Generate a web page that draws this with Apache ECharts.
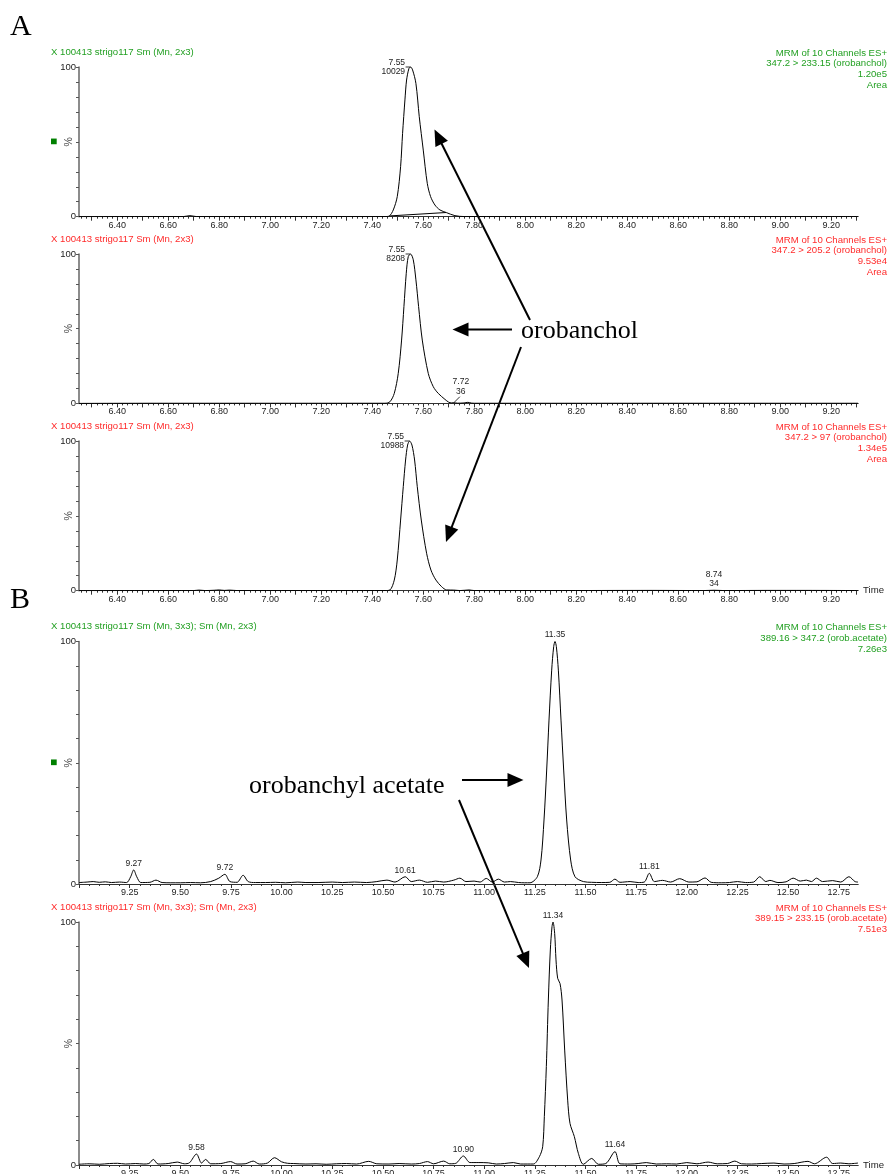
<!DOCTYPE html>
<html><head><meta charset="utf-8">
<script src="https://cdn.jsdelivr.net/npm/echarts@6/dist/echarts.min.js"></script>
<style>html,body{margin:0;padding:0;background:#fff}#c{width:890px;height:1174px}</style>
</head><body><div id="c"></div>
<script>
// ---------------- DATA (time in min, intensity in % of panel max) ----------------
const ticksA = [6.40, 6.60, 6.80, 7.00, 7.20, 7.40, 7.60, 7.80, 8.00, 8.20, 8.40, 8.60, 8.80, 9.00, 9.20];
const ticksB = [9.25, 9.50, 9.75, 10.00, 10.25, 10.50, 10.75, 11.00, 11.25, 11.50, 11.75, 12.00, 12.25, 12.50, 12.75];

const p1Trace = [
[6.25,0],[6.50,0.1],[6.66,0.1],[6.685,0.7],[6.71,0.1],[7.00,0.1],[7.30,0.1],[7.45,0.1],
[7.467,0.5],[7.4825,4.5],[7.4981,13.4],[7.5112,33.4],[7.519,55.7],[7.5282,78],[7.5347,91.3],[7.5439,99],[7.5504,100],
[7.5583,98],[7.5713,89],[7.5844,66.8],[7.6001,44.5],[7.6158,22.3],[7.6289,13.4],[7.6459,7.8],[7.6655,4.5],[7.6916,2.7],[7.7243,0.7],[7.76,0.1],[8.00,0.1],[8.40,0.1],[8.80,0.1],[9.20,0.1],[9.305,0.1]];
const p1AreaBase = [[7.467,0.5],[7.69,2.8]];
const p1Labels = [{t:7.5504, v:100, text:'7.55\n10029', kind:'left'}];

const p2Trace = [
[6.25,0],[6.60,0.1],[7.00,0.1],[7.30,0.1],[7.45,0.1],
[7.4694,1.1],[7.4864,6.7],[7.502,20.1],[7.5151,42.4],[7.5243,64.8],[7.5334,87.1],[7.5413,98.3],[7.5504,100],
[7.5609,96.1],[7.5713,82.7],[7.5818,64.8],[7.5962,42.4],[7.6197,20.1],[7.6393,11.2],[7.6589,6.7],[7.6851,2.7],
[7.70,0.8],[7.71,0.35],[7.72,0.45],[7.735,0.15],[7.76,0.3],[7.775,0.7],[7.79,0.2],[7.80,0.1],[8.20,0.1],[8.60,0.1],[9.00,0.1],[9.305,0.1]];
const p2Labels = [{t:7.5504, v:100, text:'7.55\n8208', kind:'left'}, {t:7.72, v:0.45, text:'7.72\n36', kind:'upright'}];

const p3Trace = [
[6.25,0],[6.50,0.1],[6.70,0.1],[6.72,0.4],[6.745,0.1],[6.78,0.3],[6.80,0.5],[6.82,0.2],[6.84,0.4],[6.87,0.1],[7.10,0.1],[7.45,0.1],
[7.4694,0.5],[7.4864,7.1],[7.4981,20.5],[7.5112,47.2],[7.5217,69.5],[7.5308,87.3],[7.5387,97.3],[7.5465,100],
[7.5557,97.3],[7.5661,87.3],[7.5766,69.5],[7.5923,47.2],[7.6132,25],[7.6302,13.8],[7.6498,7.1],[7.672,2.7],[7.6916,0.5],
[7.72,0.4],[7.745,0.1],[7.78,0.5],[7.80,0.1],[8.10,0.1],[8.50,0.2],[8.70,0.1],[8.74,0.3],[8.78,0.1],[8.95,0.2],[9.10,0.2],[9.305,0.1]];
const p3Labels = [{t:7.5465, v:100, text:'7.55\n10988', kind:'left'}, {t:8.74, v:0.3, text:'8.74\n34', kind:'top'}];

const p4Trace = [
[9.00,0.6],[9.04,0.8],[9.07,1.0],[9.10,0.7],[9.13,0.9],[9.16,0.6],[9.20,0.8],[9.235,0.6],[9.255,3.0],[9.27,5.8],[9.285,3.0],[9.305,0.6],
[9.35,0.7],[9.38,1.6],[9.41,0.6],[9.45,0.5],[9.50,0.5],[9.55,0.6],[9.60,0.5],[9.65,1.0],[9.69,2.4],[9.72,4.0],[9.745,1.0],[9.78,0.7],
[9.81,3.6],[9.835,1.0],[9.87,0.6],[9.92,0.6],[9.97,0.7],[10.02,0.5],[10.08,0.8],[10.12,0.6],[10.18,0.6],[10.25,0.8],[10.30,0.6],
[10.36,0.8],[10.42,0.6],[10.47,1.0],[10.52,1.6],[10.56,0.8],[10.61,3.0],[10.64,1.0],[10.68,1.6],[10.72,0.7],[10.76,1.2],[10.80,0.8],
[10.85,1.6],[10.88,2.4],[10.91,1.0],[10.95,1.2],[10.98,0.8],[11.01,2.3],[11.04,0.8],[11.07,2.0],[11.10,0.8],[11.13,1.0],[11.17,0.6],[11.20,0.5],
[11.226,0.5],[11.2623,3.0],[11.2804,9.9],[11.2952,26.4],[11.3084,47],[11.3199,67.6],[11.3331,88.2],[11.343,97.9],[11.3495,100],
[11.3561,97.9],[11.366,88.2],[11.3791,67.6],[11.3923,47],[11.4071,26.4],[11.4268,9.9],[11.4482,3.0],[11.4893,1.0],
[11.53,0.7],[11.58,0.6],[11.62,0.7],[11.645,2.0],[11.67,0.7],[11.72,1.0],[11.76,0.6],[11.79,0.8],[11.815,4.4],[11.84,1.0],[11.88,1.5],
[11.92,0.8],[11.965,2.2],[12.01,0.8],[12.05,0.9],[12.09,2.5],[12.12,0.7],[12.17,0.5],[12.21,0.6],[12.25,1.0],[12.29,0.6],[12.33,0.8],
[12.36,3.0],[12.39,1.0],[12.41,1.5],[12.45,0.6],[12.49,0.9],[12.525,2.4],[12.56,1.2],[12.59,1.6],[12.615,1.0],[12.64,2.4],[12.67,1.0],
[12.72,1.4],[12.76,0.8],[12.80,3.0],[12.83,1.0],[12.845,0.8]];
const p4Labels = [{t:11.3495, v:100, text:'11.35', kind:'top'}, {t:9.27, v:5.8, text:'9.27', kind:'top'},
  {t:9.72, v:4.0, text:'9.72', kind:'top'}, {t:10.61, v:3.0, text:'10.61', kind:'top'}, {t:11.815, v:4.4, text:'11.81', kind:'top'}];

const p5Trace = [
[9.00,0.3],[9.05,0.5],[9.10,0.3],[9.15,0.6],[9.19,0.7],[9.23,0.4],[9.28,0.6],[9.32,0.4],[9.345,0.6],[9.367,2.3],[9.39,0.4],[9.44,0.6],
[9.485,1.2],[9.52,0.5],[9.545,0.9],[9.58,4.5],[9.605,0.8],[9.625,2.3],[9.65,0.5],[9.70,0.6],[9.748,1.4],[9.78,0.4],[9.82,0.5],[9.86,1.6],
[9.89,0.4],[9.93,0.8],[9.965,3.0],[10.00,1.3],[10.03,0.7],[10.06,0.6],[10.12,0.4],[10.17,0.5],[10.22,0.3],[10.27,0.5],[10.32,0.6],
[10.37,0.4],[10.43,1.5],[10.47,0.5],[10.53,0.4],[10.58,0.6],[10.64,0.4],[10.68,0.6],[10.72,1.4],[10.75,0.5],[10.80,1.6],[10.83,0.5],
[10.86,0.7],[10.897,3.7],[10.93,1.0],[10.97,1.0],[11.02,0.9],[11.06,0.4],[11.10,0.6],[11.144,1.0],[11.18,0.4],
[11.2425,0.4],[11.2722,3.4],[11.2886,7.5],[11.2968,19.9],[11.3067,40.5],[11.3166,67.9],[11.3264,88.5],[11.3347,98.1],[11.3396,100],
[11.3478,95.3],[11.3544,84.4],[11.3627,76.8],[11.3742,74.7],[11.3841,67.9],[11.3972,47.3],[11.412,26.7],[11.4235,17.1],[11.4449,11.7],
[11.4646,4.8],[11.4893,0.3],[11.5305,2.7],[11.5634,0.3],[11.60,0.6],[11.6456,5.5],[11.67,0.5],[11.72,0.4],[11.76,0.6],[11.80,1.0],
[11.85,0.4],[11.90,0.5],[11.95,0.4],[12.00,1.0],[12.05,0.5],[12.105,1.2],[12.15,0.5],[12.20,0.6],[12.237,1.6],[12.27,0.5],[12.32,0.4],
[12.37,0.6],[12.43,0.8],[12.48,0.4],[12.53,0.6],[12.598,1.5],[12.63,0.5],[12.69,3.2],[12.72,0.6],[12.76,0.8],[12.80,0.5],[12.845,0.8]];
const p5Labels = [{t:11.3396, v:100, text:'11.34', kind:'top'}, {t:9.58, v:4.5, text:'9.58', kind:'top'},
  {t:10.897, v:3.7, text:'10.90', kind:'top'}, {t:11.6456, v:5.5, text:'11.64', kind:'top'}];

const headerA = 'X 100413 strigo117 Sm (Mn, 2x3)';
const headerB = 'X 100413 strigo117 Sm (Mn, 3x3); Sm (Mn, 2x3)';
const p1Right = ['MRM of 10 Channels ES+', '347.2 > 233.15 (orobanchol)', '1.20e5', 'Area'];
const p2Right = ['MRM of 10 Channels ES+', '347.2 > 205.2 (orobanchol)', '9.53e4', 'Area'];
const p3Right = ['MRM of 10 Channels ES+', '347.2 > 97 (orobanchol)', '1.34e5', 'Area'];
const p4Right = ['MRM of 10 Channels ES+', '389.16 > 347.2 (orob.acetate)', '7.26e3'];
const p5Right = ['MRM of 10 Channels ES+', '389.15 > 233.15 (orob.acetate)', '7.51e3'];

// ---------------- STYLE / LAYOUT ----------------
const FONT = '"Liberation Sans", Arial, sans-serif';
const SERIF = '"Liberation Serif", "Times New Roman", serif';
const GREEN = '#23a023', RED = '#ff2b2b', SQ = '#008000', TXT = '#222';
const LEFT = 79, RIGHT = 32;
const rangeA = {min: 6.25, max: 9.305, minor: 0.02, mid: 0.1, labels: ticksA};
const rangeB = {min: 9.0, max: 12.845, minor: 0.05, mid: 0.25, labels: ticksB};

const panels = [
  {top: 67,    height: 149.7, range: rangeA, trace: p1Trace, labels: p1Labels, color: GREEN, header: headerA, right: p1Right, time: false, square: true},
  {top: 254,   height: 149.4, range: rangeA, trace: p2Trace, labels: p2Labels, color: RED,   header: headerA, right: p2Right, time: false},
  {top: 441,   height: 149.7, range: rangeA, trace: p3Trace, labels: p3Labels, color: RED,   header: headerA, right: p3Right, time: true},
  {top: 641.5, height: 242.5, range: rangeB, trace: p4Trace, labels: p4Labels, color: GREEN, header: headerB, right: p4Right, time: false, square: true},
  {top: 922,   height: 243,   range: rangeB, trace: p5Trace, labels: p5Labels, color: RED,   header: headerB, right: p5Right, time: true}
];

function steps(min, max, step) {
  const out = [];
  for (let k = Math.ceil(min / step - 1e-9); k * step <= max + 1e-9; k++) out.push(Math.round(k * step * 1000) / 1000);
  return out;
}

const grids = [], xAxes = [], yAxes = [], series = [], graphics = [];

function markPoints(items) {
  return {
    silent: true, animation: false,
    data: items.map(it => {
      const lab = {show: true, formatter: it.text, fontSize: 8.5, lineHeight: 9.5, color: TXT, fontFamily: FONT};
      if (it.kind === 'left') {
        return {coord: [it.t, it.v], symbol: 'rect', symbolSize: [5, 0.8], symbolOffset: [-2.5, 0],
          itemStyle: {color: '#000'}, label: Object.assign(lab, {position: 'left', distance: 0.5, align: 'right'})};
      }
      if (it.kind === 'upright') {
        return {coord: [it.t, it.v], symbol: 'path://M0,10 L8,0', symbolSize: [6, 6], symbolOffset: [3, -3],
          itemStyle: {color: 'rgba(0,0,0,0)', borderColor: '#000', borderWidth: 0.8},
          label: Object.assign(lab, {position: 'top', distance: 0, align: 'center', offset: [4, 0]})};
      }
      return {coord: [it.t, it.v], symbol: 'circle', symbolSize: 0.5, itemStyle: {color: 'rgba(0,0,0,0)'},
        label: Object.assign(lab, {position: 'top', distance: 1.5, align: 'center'})};
    })
  };
}

panels.forEach((p, i) => {
  grids.push({left: LEFT, right: RIGHT, top: p.top, height: p.height, containLabel: false, outerBoundsMode: 'none'});
  const r = p.range;
  xAxes.push({
    type: 'value', gridIndex: i, position: 'bottom', min: r.min, max: r.max,
    axisLine: {show: true, onZero: false, lineStyle: {color: '#333', width: 1}},
    axisTick: {show: true, customValues: steps(r.min, r.max, r.minor), length: 2, lineStyle: {color: '#333', width: 1}},
    axisLabel: {show: true, customValues: r.labels, formatter: v => v.toFixed(2), fontSize: 9, color: TXT, margin: 4, fontFamily: FONT},
    splitLine: {show: false},
    name: p.time ? 'Time' : '', nameLocation: 'end', nameGap: 5, nameMoveOverlap: false,
    nameTextStyle: {fontSize: 9.6, color: TXT, fontFamily: FONT, verticalAlign: 'middle', align: 'left'}
  });
  xAxes.push({
    type: 'value', gridIndex: i, position: 'bottom', min: r.min, max: r.max,
    axisLine: {show: true, onZero: false, lineStyle: {color: '#333', width: 1}},
    axisTick: {show: true, customValues: steps(r.min, r.max, r.mid), length: 4, lineStyle: {color: '#333', width: 1}},
    axisLabel: {show: false}, splitLine: {show: false}
  });
  yAxes.push({
    type: 'value', gridIndex: i, min: 0, max: 100, interval: 10,
    axisLine: {show: true, onZero: false, lineStyle: {color: '#666', width: 1.5}},
    axisTick: {show: true, length: 3, lineStyle: {color: '#555', width: 1}},
    axisLabel: {show: true, customValues: [0, 100], fontSize: 9.5, color: TXT, margin: 3, fontFamily: FONT},
    splitLine: {show: false},
    name: '%', nameLocation: 'middle', nameGap: 4, nameRotate: 90, nameMoveOverlap: false,
    nameTextStyle: {fontSize: 10.5, color: '#444', fontFamily: FONT}
  });
  series.push({
    type: 'line', xAxisIndex: 2 * i, yAxisIndex: i, data: p.trace, showSymbol: false, symbol: 'none',
    smooth: 0.3, lineStyle: {color: '#000', width: 1}, silent: true, animation: false,
    markPoint: markPoints(p.labels)
  });
  graphics.push({type: 'text', x: 51, y: p.top - 14.7, silent: true,
    style: {text: p.header, fill: p.color, font: '9.6px ' + FONT, align: 'left', verticalAlign: 'middle'}});
  graphics.push({type: 'text', x: 887, y: p.top - 14.7 - 5.45 + 0.6, silent: true,
    style: {text: p.right.join('\n'), fill: p.color, font: '9.6px ' + FONT, align: 'right', verticalAlign: 'top', lineHeight: 10.9}});
  if (p.square) {
    graphics.push({type: 'rect', silent: true, shape: {x: 51, y: p.top + p.height / 2 - 2.8 - 0.5, width: 5.7, height: 5.7}, style: {fill: SQ}});
  }
});

// integration baseline under the first peak
series.push({type: 'line', xAxisIndex: 0, yAxisIndex: 0, data: p1AreaBase, showSymbol: false, symbol: 'none',
  lineStyle: {color: '#000', width: 1}, silent: true, animation: false});

// ---------------- annotations ----------------
function arrow(x1, y1, x2, y2) {
  const dx = x2 - x1, dy = y2 - y1, L = Math.hypot(dx, dy), ux = dx / L, uy = dy / L, hl = 16, hw = 7;
  const bx = x2 - ux * hl, by = y2 - uy * hl;
  return [
    {type: 'line', silent: true, shape: {x1: x1, y1: y1, x2: bx + ux * 2, y2: by + uy * 2}, style: {stroke: '#000', lineWidth: 2}},
    {type: 'polygon', silent: true, shape: {points: [[x2, y2], [bx - uy * hw, by + ux * hw], [bx + uy * hw, by - ux * hw]]}, style: {fill: '#000'}}
  ];
}
graphics.push(...arrow(530, 320, 434.5, 129.5));
graphics.push(...arrow(512, 329.5, 452.5, 329.5));
graphics.push(...arrow(521, 347, 446, 542));
graphics.push(...arrow(462, 780, 523.5, 780));
graphics.push(...arrow(459, 800, 529, 968));

graphics.push({type: 'text', x: 10, y: 27, silent: true, style: {text: 'A', fill: '#000', font: '30px ' + SERIF, verticalAlign: 'middle'}});
graphics.push({type: 'text', x: 10, y: 600, silent: true, style: {text: 'B', fill: '#000', font: '30px ' + SERIF, verticalAlign: 'middle'}});
graphics.push({type: 'text', x: 521, y: 331.5, silent: true, style: {text: 'orobanchol', fill: '#000', font: '26px ' + SERIF, verticalAlign: 'middle'}});
graphics.push({type: 'text', x: 249, y: 786, silent: true, style: {text: 'orobanchyl acetate', fill: '#000', font: '26px ' + SERIF, verticalAlign: 'middle'}});

const chart = echarts.init(document.getElementById('c'), null, {renderer: 'canvas'});
chart.setOption({
  animation: false,
  backgroundColor: '#fff',
  grid: grids, xAxis: xAxes, yAxis: yAxes, series: series,
  graphic: {elements: graphics}
});
</script>
</body></html>
